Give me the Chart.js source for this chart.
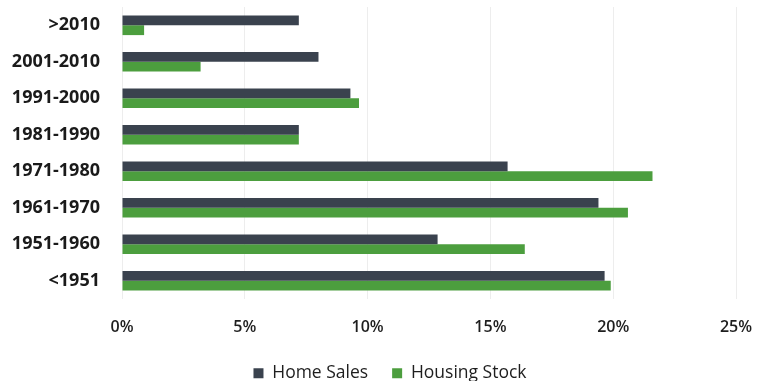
<!DOCTYPE html>
<html>
<head>
<meta charset="utf-8">
<script src="https://cdn.jsdelivr.net/npm/chart.js@4.4.1/dist/chart.umd.min.js"></script>
<style>
  html, body { margin: 0; padding: 0; background: #ffffff; }
  #wrap { width: 761px; height: 381px; position: relative; }
</style>
</head>
<body>
<div id="wrap"><canvas id="chart"></canvas></div>
<script>
// Year-built bands, top to bottom
const categories = ['>2010', '2001-2010', '1991-2000', '1981-1990', '1971-1980', '1961-1970', '1951-1960', '<1951'];
// Share of each band, in percent
const homeSales = [7.2, 8.0, 9.3, 7.2, 15.7, 19.4, 12.85, 19.65];
const housingStock = [0.9, 3.2, 9.65, 7.2, 21.6, 20.6, 16.4, 19.9];
const xTicks = [0, 5, 10, 15, 20, 25];

const FONT = '"Open Sans", "Liberation Sans", sans-serif';

// Nudge the legend row to the right so it sits under the middle of the page
const legendShift = {
  id: 'legendShift',
  afterLayout(chart) {
    const lg = chart.legend;
    if (lg) { lg.left += 22; lg.right += 22; }
  }
};

new Chart(document.getElementById('chart'), {
  type: 'bar',
  data: {
    labels: categories,
    datasets: [
      { label: 'Home Sales', data: homeSales, backgroundColor: '#3a424e',
        categoryPercentage: 0.54, barPercentage: 1.0 },
      { label: 'Housing Stock', data: housingStock, backgroundColor: '#4c9e3e',
        categoryPercentage: 0.54, barPercentage: 1.0 }
    ]
  },
  options: {
    indexAxis: 'y',
    responsive: true,
    maintainAspectRatio: false,
    animation: false,
    layout: { padding: { left: 0, right: 25, top: 7, bottom: 0 } },
    scales: {
      x: {
        min: 0, max: 25,
        afterBuildTicks: (scale) => { scale.ticks = xTicks.map(v => ({ value: v })); },
        afterFit: (scale) => {
          scale.height = 41.5;
          scale.paddingLeft = 0;
          scale.paddingRight = 0;
        },
        border: { display: false },
        grid: { color: 'rgba(0,0,0,0.07)', drawTicks: false, lineWidth: 1 },
        ticks: {
          padding: 19,
          color: '#1e1e1e',
          font: { family: FONT, size: 16, weight: '600' },
          callback: (v) => v + '%',
          maxRotation: 0
        }
      },
      y: {
        afterFit: (scale) => {
          scale.width = 122;
          scale.paddingTop = 0;
          scale.paddingBottom = 0;
        },
        border: { display: false },
        grid: { display: false, drawTicks: false },
        ticks: {
          padding: 22,
          color: '#1a1a1a',
          font: { family: FONT, size: 18, weight: '700' }
        }
      }
    },
    plugins: {
      legend: {
        position: 'bottom',
        maxHeight: 40.5,
        labels: {
          boxWidth: 10,
          boxHeight: 10,
          padding: 24,
          color: '#1e1e1e',
          font: { family: FONT, size: 17.5, weight: '500' }
        }
      },
      tooltip: { enabled: false }
    }
  },
  plugins: [legendShift]
});
</script>
</body>
</html>
